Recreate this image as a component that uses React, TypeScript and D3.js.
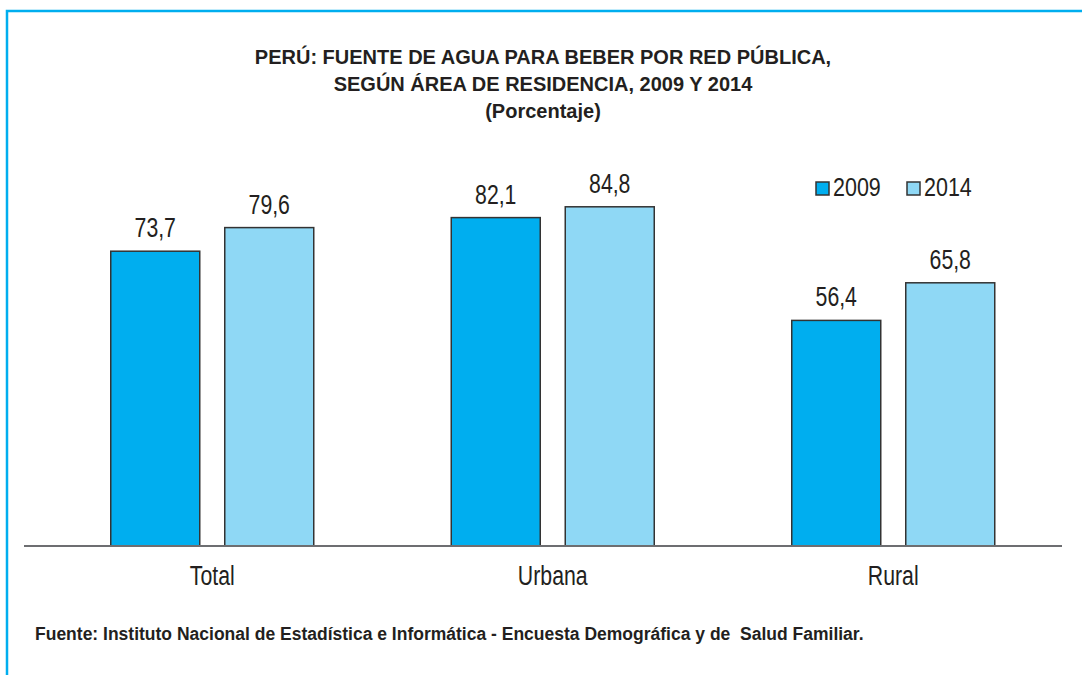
import React, { useEffect, useRef } from 'react';
import * as d3 from 'd3';

const CATEGORIES = ['Total', 'Urbana', 'Rural'];
const YEARS = ['2009', '2014'];
const VALUES_2009 = [73.7, 82.1, 56.4];
const VALUES_2014 = [79.6, 84.8, 65.8];
const COLORS = ['#00aeef', '#8fd8f5'];
const TITLE_LINES = [
  'PERÚ: FUENTE DE AGUA PARA BEBER POR RED PÚBLICA,',
  'SEGÚN ÁREA DE RESIDENCIA, 2009 Y 2014',
  '(Porcentaje)'
];
const SOURCE = 'Fuente: Instituto Nacional de Estadística e Informática - Encuesta Demográfica y de  Salud Familiar.';

const FONT = '"Liberation Sans", Arial, sans-serif';
const TEXT = '#231f20';
const NARROW = 0.76; // the original uses a condensed face

const App = () => {
  const svgRef = useRef<SVGSVGElement>(null);

  useEffect(() => {
    const svg = d3.select(svgRef.current);
    svg.selectAll('*').remove();

    const width = 1082;
    const height = 675;
    const baseline = 546;

    // condensed text helper
    const narrowText = (sel, x, y, size, sx = NARROW) =>
      sel.append('text')
        .attr('transform', `translate(${x},${y}) scale(${sx},1)`)
        .attr('text-anchor', 'middle')
        .style('font-family', FONT)
        .style('font-size', size + 'px')
        .style('fill', TEXT);

    // frame
    svg.append('rect')
      .attr('x', 7).attr('y', 11)
      .attr('width', width + 10).attr('height', height + 10)
      .attr('fill', 'white')
      .attr('stroke', '#00aeef')
      .attr('stroke-width', 2.5);

    // title
    svg.append('g').selectAll('text')
      .data(TITLE_LINES)
      .enter()
      .append('text')
      .attr('x', 543)
      .attr('y', (d, i) => 64 + i * 27)
      .attr('text-anchor', 'middle')
      .style('font-family', FONT)
      .style('font-weight', 'bold')
      .style('font-size', '20px')
      .style('fill', TEXT)
      .text(d => d);

    const x0 = d3.scaleBand()
      .domain(CATEGORIES)
      .range([42, 1063.5])
      .padding(0);

    const x1 = d3.scaleBand()
      .domain(YEARS)
      .range([0, 203])
      .paddingInner(25 / 114)
      .paddingOuter(0);

    const y = d3.scaleLinear()
      .domain([0, 100])
      .range([baseline, baseline - 400]);

    const rows = CATEGORIES.map((c, i) => ({
      category: c,
      values: [VALUES_2009[i], VALUES_2014[i]]
    }));

    rows.forEach(row => {
      const gx = x0(row.category)! + x0.bandwidth() / 2 - 101.5;
      row.values.forEach((v, j) => {
        const bx = gx + x1(YEARS[j])!;
        svg.append('rect')
          .attr('x', bx)
          .attr('y', y(v))
          .attr('width', x1.bandwidth())
          .attr('height', baseline - y(v))
          .attr('fill', COLORS[j])
          .attr('stroke', '#333')
          .attr('stroke-width', 1.5);
        narrowText(svg, bx + x1.bandwidth() / 2, y(v) - 14, 28)
          .text(v.toFixed(1).replace('.', ','));
      });
    });

    // axis line
    svg.append('line')
      .attr('x1', 24).attr('x2', 1062)
      .attr('y1', baseline).attr('y2', baseline)
      .attr('stroke', '#6d6e71')
      .attr('stroke-width', 2);

    // category labels
    CATEGORIES.forEach(c => {
      narrowText(svg, x0(c)! + x0.bandwidth() / 2, 585, 28).text(c);
    });

    // legend
    YEARS.forEach((yr, i) => {
      const lx = 816 + i * 91;
      svg.append('rect')
        .attr('x', lx).attr('y', 182)
        .attr('width', 13).attr('height', 13)
        .attr('fill', COLORS[i])
        .attr('stroke', '#333')
        .attr('stroke-width', 1.5);
      narrowText(svg, lx + 17, 196, 25, 0.86)
        .attr('text-anchor', 'start')
        .text(yr);
    });

    // source
    svg.append('text')
      .attr('x', 35)
      .attr('y', 640)
      .attr('xml:space', 'preserve')
      .style('white-space', 'pre')
      .style('font-family', FONT)
      .style('font-weight', 'bold')
      .style('font-size', '17.5px')
      .style('fill', TEXT)
      .text(SOURCE);
  }, []);

  return (
    <svg
      ref={svgRef}
      width={1082}
      height={675}
      style={{ position: 'absolute', left: 0, top: 0, background: 'white' }}
    />
  );
};

export default App;
